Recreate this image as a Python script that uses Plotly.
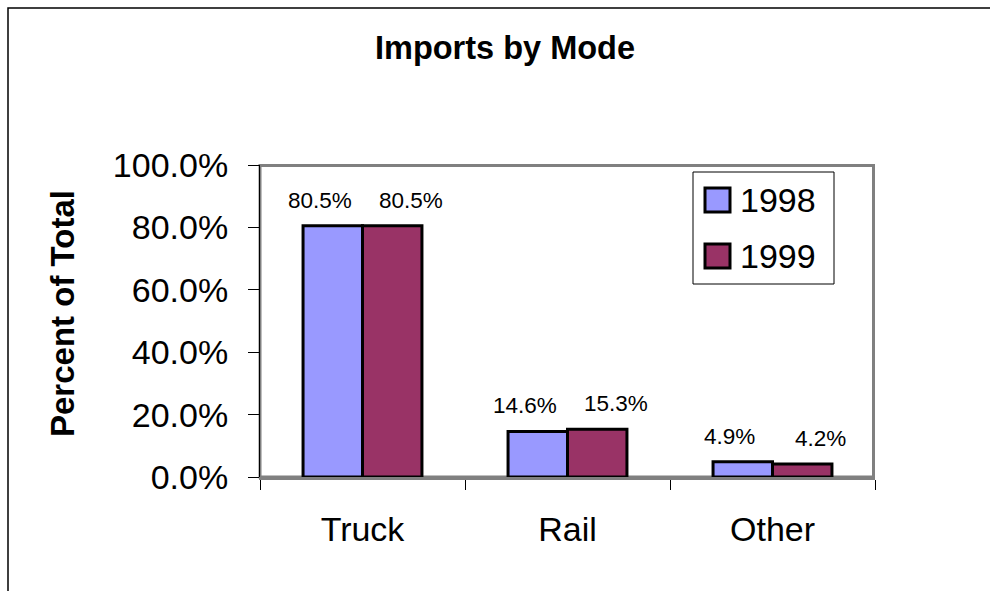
import plotly.graph_objects as go

categories = ["Truck", "Rail", "Other"]
series_names = ["1998", "1999"]
values_1998 = [0.805, 0.146, 0.049]
values_1999 = [0.805, 0.153, 0.042]
label_1998 = ["80.5%", "14.6%", "4.9%"]
label_1999 = ["80.5%", "15.3%", "4.2%"]
colors = ["#9999FF", "#993366"]
y_ticks = [0, 0.2, 0.4, 0.6, 0.8, 1.0]

W, H = 990, 591
L, R, T, B = 260, 875, 165, 477


def px(x):
    return (x - L) / (R - L)


def py(y):
    return (B - y) / (B - T)


FONT = "Liberation Sans, Arial, sans-serif"

fig = go.Figure()
for name, vals, col in zip(series_names, [values_1998, values_1999], colors):
    fig.add_trace(go.Bar(
        x=categories, y=vals, name=name,
        marker=dict(color=col, line=dict(color="black", width=3)),
        showlegend=False, hoverinfo="skip",
    ))

annotations = []
for vals, labels, shift in [(values_1998, label_1998, -43), (values_1999, label_1999, 48)]:
    for c, v, t in zip(categories, vals, labels):
        annotations.append(dict(
            x=c, y=v, xref="x", yref="y", text=t, showarrow=False,
            xshift=shift, yshift=11, yanchor="bottom",
            font=dict(family=FONT, size=22.5, color="black"),
        ))

# y-axis title
annotations.append(dict(
    x=px(62), y=py(314), xref="paper", yref="paper", text="<b>Percent of Total</b>",
    textangle=-90, showarrow=False, xanchor="center", yanchor="middle",
    font=dict(family=FONT, size=33, color="black"),
))

shapes = [
    # outer frame
    dict(type="rect", xref="paper", yref="paper", x0=px(8), y0=py(8), x1=px(1200), y1=py(800),
         line=dict(color="black", width=1.5), layer="below"),
    # plot area frame
    dict(type="rect", xref="paper", yref="paper", x0=0, y0=0, x1=px(873.5), y1=py(165.5),
         line=dict(color="#808080", width=3), layer="below"),
]

# custom legend
shapes.append(dict(type="rect", xref="paper", yref="paper", x0=px(693), y0=py(172), x1=px(834), y1=py(284),
                   line=dict(color="black", width=1), fillcolor="white"))
for i, (name, col) in enumerate(zip(series_names, colors)):
    cy = 200 + i * 56
    shapes.append(dict(type="rect", xref="paper", yref="paper",
                       x0=px(705), x1=px(730), y0=py(cy - 12), y1=py(cy + 12),
                       line=dict(color="black", width=3), fillcolor=col))
    annotations.append(dict(x=px(738), y=py(cy), xref="paper", yref="paper", text=name,
                            showarrow=False, xanchor="left", yanchor="middle",
                            font=dict(family=FONT, size=34, color="black")))

fig.update_layout(
    width=W, height=H,
    margin=dict(l=L, r=W - R, t=T, b=H - B),
    paper_bgcolor="white", plot_bgcolor="white",
    barmode="group", bargap=0.42, bargroupgap=0,
    title=dict(text="<b>Imports by Mode</b>", x=505 / W, y=1 - 48 / H, xref="container", yref="container",
               xanchor="center", yanchor="middle",
               font=dict(family=FONT, size=32.5, color="black")),
    font=dict(family=FONT, color="black"),
    annotations=annotations, shapes=shapes,
    showlegend=False, hovermode=False,
)
fig.update_yaxes(range=[0, 1], tickvals=y_ticks, tickformat=".1%", showgrid=False, zeroline=False,
                 showline=True, linecolor="black", linewidth=1, ticks="outside", ticklen=11,
                 tickcolor="black", tickwidth=1, ticklabelstandoff=13,
                 tickfont=dict(family=FONT, size=34, color="black"))
fig.update_xaxes(showgrid=False, showline=True, linecolor="#808080", linewidth=3,
                 ticks="outside", tickson="boundaries", ticklen=10, tickcolor="black", tickwidth=1,
                 ticklabelstandoff=20,
                 tickfont=dict(family=FONT, size=34, color="black"))

fig.write_html("out.html", config={"displayModeBar": False, "staticPlot": True})

# remove default page margin so the figure sits at the window's top-left corner
with open("out.html", "r", encoding="utf-8") as f:
    html = f.read()
html = html.replace("<body>", '<body style="margin:0;padding:0;overflow:hidden">', 1)
with open("out.html", "w", encoding="utf-8") as f:
    f.write(html)
